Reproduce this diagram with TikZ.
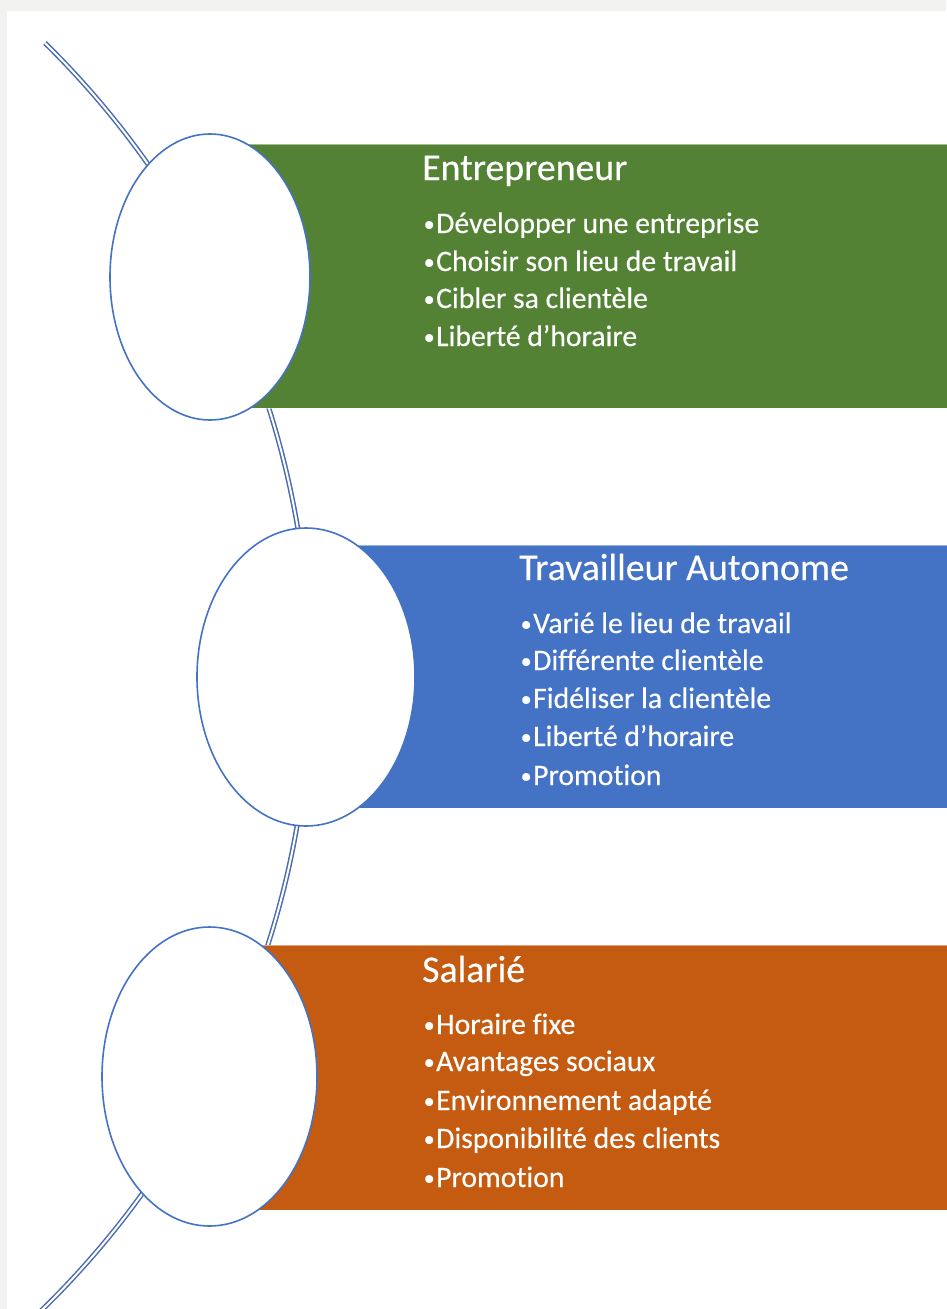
\documentclass[tikz,border=0pt]{standalone}
\usepackage{fontspec}
\setmainfont{Carlito}[Ligatures=NoCommon]
\newfontface\txtface{Carlito}[Ligatures=NoCommon, FakeBold=0.35]
\usetikzlibrary{shapes.geometric}
\definecolor{bggray}{HTML}{F2F2F0}
\definecolor{gband}{HTML}{548235}
\definecolor{bband}{HTML}{4472C4}
\definecolor{oband}{HTML}{C55A11}
\definecolor{ring}{HTML}{4472C4}
\definecolor{spinecol}{HTML}{4A6CB0}
\newcommand\mybul{\kern1.5pt{\fontsize{22}{22}\selectfont\raisebox{1.8pt}{•}}\kern1.5pt}
\tikzset{
  spine/.style={draw=spinecol, line width=1.5pt, double=white, double distance=2pt},
  band/.style={draw=white, draw opacity=0.45, line width=0.8pt, anchor=north west, inner sep=0, minimum width=740pt, minimum height=264pt},
  ring/.style={ellipse, draw=ring, fill=white, line width=1.6pt, inner sep=0},
  ttl/.style={anchor=base west, inner sep=0, text=white, font=\txtface\fontsize{37.8}{40}\selectfont},
  itm/.style={anchor=base west, inner sep=0, text=white, font=\txtface\fontsize{29.7}{32}\selectfont},
}
\begin{document}
\begin{tikzpicture}[x=1pt,y=1pt]
\useasboundingbox (0,0) rectangle (946,-1309);
\fill[bggray] (0,0) rectangle (946,-1309);
\fill[white] (7,-11) rectangle (946,-1309);
% spine arc
\draw[spine] (45,-43) arc[start angle=45.5, end angle=-47, radius=886];
% bands
\node[band, fill=gband, minimum height=264pt] (b1) at (210,-144) {};
\node[band, fill=bband, minimum height=263pt] (b2) at (306,-545) {};
\node[band, fill=oband, minimum height=265pt] (b3) at (209,-945) {};
% rings
\node[ring, minimum width=200pt, minimum height=286pt] (c1) at (210,-277) {};
\node[ring, minimum width=218pt, minimum height=298pt] (c2) at (306,-677) {};
\node[ring, minimum width=215pt, minimum height=299pt] (c3) at (209.5,-1076.5) {};
% Entrepreneur
\node[ttl] (t1) at (422,-180) {Entrepreneur};
\node[itm] (e1) at (422,-233) {\mybul Développer une entreprise};
\node[itm] (e2) at (422,-271) {\mybul Choisir son lieu de travail};
\node[itm] (e3) at (422,-308) {\mybul Cibler sa clientèle};
\node[itm] (e4) at (422,-346) {\mybul Liberté d’horaire};
% Travailleur Autonome
\node[ttl] (t2) at (519,-580) {Travailleur Autonome};
\node[itm] (a1) at (519,-633) {\mybul Varié le lieu de travail};
\node[itm] (a2) at (519,-670) {\mybul Différente clientèle};
\node[itm] (a3) at (519,-708) {\mybul Fidéliser la clientèle};
\node[itm] (a4) at (519,-746) {\mybul Liberté d’horaire};
\node[itm] (a5) at (519,-785) {\mybul Promotion};
% Salarie
\node[ttl] (t3) at (422,-982) {Salarié};
\node[itm] (s1) at (422,-1034) {\mybul Horaire fixe};
\node[itm] (s2) at (422,-1071) {\mybul Avantages sociaux};
\node[itm] (s3) at (422,-1110) {\mybul Environnement adapté};
\node[itm] (s4) at (422,-1148) {\mybul Disponibilité des clients};
\node[itm] (s5) at (422,-1187) {\mybul Promotion};
\end{tikzpicture}
\end{document}
